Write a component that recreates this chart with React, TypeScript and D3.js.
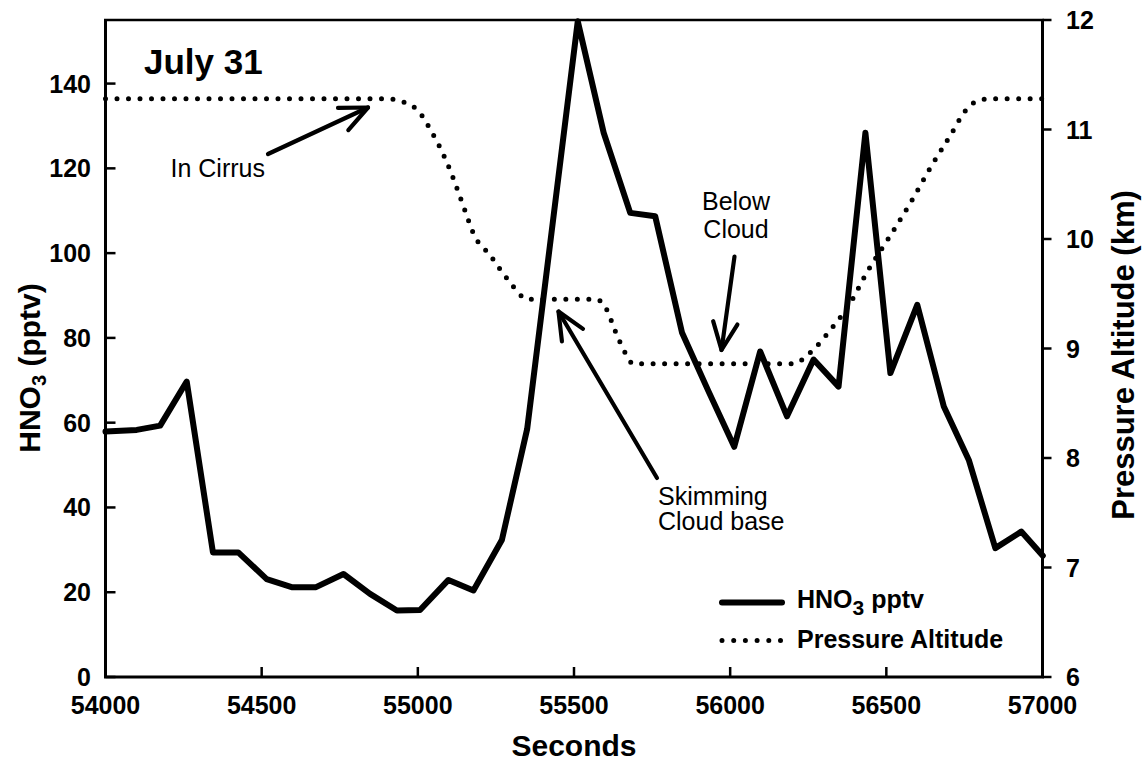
import React from "react";
import * as d3 from "d3";

const hno3Seconds = [54000, 54100, 54175, 54260, 54344, 54425, 54516, 54596, 54674, 54762, 54847, 54933, 55007, 55098, 55178, 55269, 55350, 55512, 55595, 55680, 55760, 55846, 55930, 56013, 56096, 56182, 56267, 56347, 56433, 56513, 56599, 56684, 56764, 56849, 56932, 57001];
const hno3Values = [57.9, 58.3, 59.3, 69.7, 29.4, 29.4, 23.1, 21.2, 21.2, 24.3, 19.6, 15.7, 15.8, 22.9, 20.4, 32.3, 58.5, 154.7, 128.4, 109.5, 108.7, 81.2, 67.5, 54.3, 76.8, 61.5, 74.9, 68.5, 128.4, 71.7, 87.8, 63.8, 51.2, 30.4, 34.3, 28.6];

const altSeconds = [54000, 54900, 54963, 54998, 55042, 55096, 55151, 55178, 55232, 55288, 55353, 55571, 55602, 55632, 55664, 55690, 56200, 56263, 56324, 56379, 56443, 56508, 56577, 56641, 56708, 56753, 56790, 56830, 57000];
const altValues = [11.28, 11.28, 11.24, 11.18, 10.99, 10.68, 10.26, 10.05, 9.85, 9.63, 9.45, 9.45, 9.37, 9.16, 8.96, 8.86, 8.86, 8.98, 9.18, 9.39, 9.72, 10.01, 10.33, 10.65, 10.96, 11.17, 11.26, 11.28, 11.28];

const xTicks = [54000, 54500, 55000, 55500, 56000, 56500, 57000];
const leftTicks = [0, 20, 40, 60, 80, 100, 120, 140];
const rightTicks = [6, 7, 8, 9, 10, 11, 12];

const FONT = "'Liberation Sans', Arial, Helvetica, sans-serif";

export default function App() {
  const W = 1143, H = 761;
  const L = 105.5, R = 1042.5, T = 20, B = 677;
  const x = d3.scaleLinear().domain([54000, 57000]).range([L, R]);
  const yL = d3.scaleLinear().domain([0, 155]).range([B, T]);
  const yR = d3.scaleLinear().domain([6, 12]).range([B, T]);

  const hnoPts: [number, number][] = hno3Seconds.map((s, i) => [s, hno3Values[i]]);
  const altPts: [number, number][] = altSeconds.map((s, i) => [s, altValues[i]]);

  const hnoLine = d3.line<[number, number]>().x(d => x(d[0])).y(d => yL(d[1]))(hnoPts) || "";
  const altLine = d3.line<[number, number]>().x(d => x(d[0])).y(d => yR(d[1])).curve(d3.curveMonotoneX)(altPts) || "";

  const arrow = (x1: number, y1: number, x2: number, y2: number, hl = 30, ang = 0.42) => {
    const a = Math.atan2(y1 - y2, x1 - x2);
    const b1x = x2 + hl * Math.cos(a + ang), b1y = y2 + hl * Math.sin(a + ang);
    const b2x = x2 + hl * Math.cos(a - ang), b2y = y2 + hl * Math.sin(a - ang);
    return (
      <g stroke="#000" strokeWidth={4.2} fill="none" strokeLinecap="round" strokeLinejoin="round">
        <line x1={x1} y1={y1} x2={x2} y2={y2} />
        <polyline points={`${b1x},${b1y} ${x2},${y2} ${b2x},${b2y}`} />
      </g>
    );
  };

  return (
    <svg width={W} height={H} style={{ position: "absolute", left: 0, top: 0, background: "#fff" }} fontFamily={FONT}>
      <rect x={0} y={0} width={W} height={H} fill="#fff" />
      {/* data */}
      <path d={altLine} fill="none" stroke="#000" strokeWidth={5} strokeDasharray="0 11.5" strokeLinecap="round" />
      <path d={hnoLine} fill="none" stroke="#000" strokeWidth={6} strokeLinejoin="round" strokeLinecap="round" />

      {/* frame */}
      <g stroke="#000" strokeWidth={3} fill="none">
        <line x1={L} y1={T} x2={L} y2={B} />
        <line x1={L - 1.5} y1={B} x2={R + 1.5} y2={B} />
        <line x1={R} y1={T} x2={R} y2={B} />
        <line x1={L - 1.5} y1={T} x2={R + 1.5} y2={T} strokeWidth={2.5} />
      </g>

      {/* left axis */}
      {leftTicks.map(t => (
        <g key={"l" + t}>
          <line x1={L} x2={L + 10} y1={yL(t)} y2={yL(t)} stroke="#000" strokeWidth={2.5} />
          <text x={91} y={yL(t)} dy="0.36em" textAnchor="end" fontSize={25} fontWeight="bold">{t}</text>
        </g>
      ))}
      {/* right axis */}
      {rightTicks.map(t => (
        <g key={"r" + t}>
          <line x1={R} x2={R + 9} y1={yR(t)} y2={yR(t)} stroke="#000" strokeWidth={2.5} />
          <text x={1066} y={yR(t)} dy="0.36em" textAnchor="start" fontSize={25} fontWeight="bold">{t}</text>
        </g>
      ))}
      {/* bottom axis */}
      {xTicks.map(t => (
        <g key={"b" + t}>
          <line x1={x(t)} x2={x(t)} y1={B} y2={B - 10} stroke="#000" strokeWidth={2.5} />
          <text x={x(t)} y={714} textAnchor="middle" fontSize={25} fontWeight="bold">{t}</text>
        </g>
      ))}

      {/* axis titles */}
      <text x={574} y={756} textAnchor="middle" fontSize={30} fontWeight="bold">Seconds</text>
      <text transform="translate(40,368) rotate(-90)" textAnchor="middle" fontSize={30} fontWeight="bold">
        HNO<tspan fontSize={20} dy={6}>3</tspan><tspan dy={-6}> (pptv)</tspan>
      </text>
      <text transform="translate(1134,355) rotate(-90)" textAnchor="middle" fontSize={31} fontWeight="bold">Pressure Altitude (km)</text>

      {/* title */}
      <text x={144} y={74} fontSize={35} fontWeight="bold">July 31</text>

      {/* annotations */}
      <text x={170.5} y={177} fontSize={25}>In Cirrus</text>
      {arrow(268, 154, 368, 107.5)}

      <text x={736} y={210} textAnchor="middle" fontSize={25}>Below</text>
      <text x={736} y={238} textAnchor="middle" fontSize={25}>Cloud</text>
      {arrow(734.5, 256.5, 721.5, 350)}

      <text x={658} y={505} fontSize={25}>Skimming</text>
      <text x={658} y={530} fontSize={25}>Cloud base</text>
      {arrow(657, 478, 558.5, 311.5)}

      {/* legend */}
      <line x1={722} x2={782} y1={602.5} y2={602.5} stroke="#000" strokeWidth={6} strokeLinecap="round" />
      <text x={797} y={608} fontSize={25} fontWeight="bold">
        HNO<tspan fontSize={21} dy={7}>3</tspan><tspan dy={-7}> pptv</tspan>
      </text>
      <line x1={722} x2={784} y1={640.5} y2={640.5} stroke="#000" strokeWidth={5} strokeDasharray="0 11.7" strokeLinecap="round" />
      <text x={797} y={648} fontSize={25} fontWeight="bold">Pressure Altitude</text>
    </svg>
  );
}
